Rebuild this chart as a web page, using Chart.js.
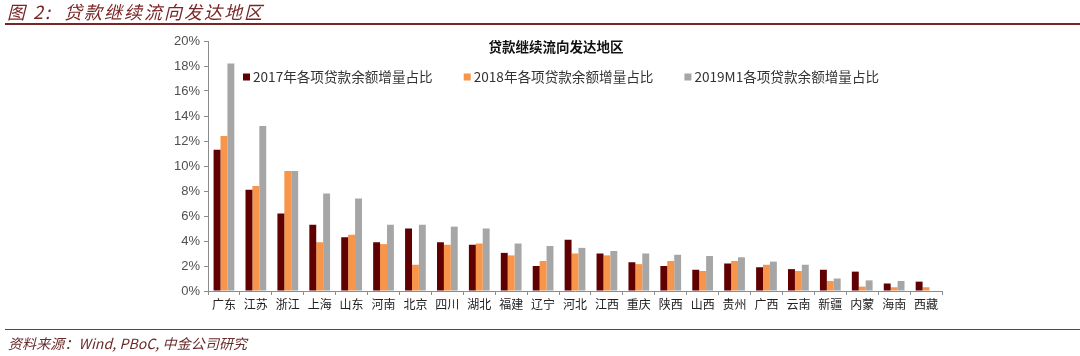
<!DOCTYPE html>
<html>
<head>
<meta charset="utf-8">
<script src="https://cdn.jsdelivr.net/npm/chart.js@4/dist/chart.umd.min.js"></script>
<style>
  html, body { margin: 0; padding: 0; background: #fff; }
  #wrap { position: relative; width: 1080px; height: 356px; overflow: hidden; }
  #c { position: absolute; left: 0; top: 0; }
  .hdr { position: absolute; left: 7px; top: 0px; font-family: "Noto Sans CJK SC", "Liberation Sans", sans-serif; font-style: italic; font-size: 18px; letter-spacing: 2px; color: #7b2626; line-height: 22px; }
  .line1 { position: absolute; left: 5px; right: 0; top: 23px; height: 2px; background: #7b2626; }
  .line2 { position: absolute; left: 5px; right: 0; top: 329px; height: 1px; background: #7b3a3a; }
  .src { position: absolute; left: 8px; top: 333px; font-family: "Noto Sans CJK SC", "Liberation Sans", sans-serif; font-style: italic; font-size: 14px; letter-spacing: 0.1px; color: #6b2a2a; line-height: 20px; }
</style>
</head>
<body>
<div id="wrap">
  <canvas id="c" width="1080" height="356"></canvas>
  <div class="hdr">图 2:&nbsp; 贷款继续流向发达地区</div>
  <div class="line1"></div>
  <div class="line2"></div>
  <div class="src">资料来源：Wind, PBoC, 中金公司研究</div>
</div>
<script>
const categories = ["广东","江苏","浙江","上海","山东","河南","北京","四川","湖北","福建","辽宁","河北","江西","重庆","陕西","山西","贵州","广西","云南","新疆","内蒙","海南","西藏"];
const seriesNames = ["2017年各项贷款余额增量占比","2018年各项贷款余额增量占比","2019M1各项贷款余额增量占比"];
const values2017 = [11.3, 8.1, 6.2, 5.3, 4.3, 3.9, 5.0, 3.9, 3.7, 3.05, 2.0, 4.1, 3.0, 2.3, 2.0, 1.7, 2.2, 1.9, 1.75, 1.7, 1.55, 0.6, 0.75];
const values2018 = [12.4, 8.4, 9.6, 3.9, 4.5, 3.75, 2.1, 3.7, 3.8, 2.85, 2.4, 3.0, 2.85, 2.15, 2.4, 1.6, 2.4, 2.1, 1.6, 0.8, 0.35, 0.3, 0.3];
const values2019 = [18.2, 13.2, 9.6, 7.8, 7.4, 5.3, 5.3, 5.15, 5.0, 3.8, 3.6, 3.45, 3.2, 3.0, 2.9, 2.8, 2.7, 2.35, 2.1, 1.0, 0.85, 0.8, 0];
const yTicks = [0, 2, 4, 6, 8, 10, 12, 14, 16, 18, 20];
const chartTitle = "贷款继续流向发达地区";

const colors = ["#600000", "#f7964a", "#a6a6a6"];
const CJK = '"Noto Sans CJK SC", sans-serif';

const overlay = {
  id: 'overlay',
  afterDraw(chart) {
    const ctx = chart.ctx;
    ctx.save();
    // chart title
    ctx.fillStyle = '#111';
    ctx.font = 'bold 13.5px ' + CJK;
    ctx.textAlign = 'center';
    ctx.textBaseline = 'middle';
    ctx.fillText(chartTitle, 556, 47);
    // legend
    ctx.font = '13.6px ' + CJK;
    ctx.textAlign = 'left';
    let x = 243;
    const y = 77;
    chart.data.datasets.forEach((ds, i) => {
      ctx.fillStyle = ds.backgroundColor;
      ctx.fillRect(x, y - 3.5, 7, 7);
      ctx.fillStyle = '#333';
      const label = ds.label;
      ctx.fillText(label, x + 10, y);
      x += 10 + ctx.measureText(label).width + 31;
    });
    ctx.restore();
  }
};

new Chart(document.getElementById('c'), {
  type: 'bar',
  data: {
    labels: categories,
    datasets: [
      { label: seriesNames[0], data: values2017, backgroundColor: colors[0] },
      { label: seriesNames[1], data: values2018, backgroundColor: colors[1] },
      { label: seriesNames[2], data: values2019, backgroundColor: colors[2] }
    ]
  },
  options: {
    responsive: false,
    animation: false,
    devicePixelRatio: 1,
    layout: { padding: { left: 0, right: 138, top: 41, bottom: 0 } },
    datasets: { bar: { categoryPercentage: 0.65, barPercentage: 1.0 } },
    plugins: { legend: { display: false }, title: { display: false }, tooltip: { enabled: false } },
    scales: {
      x: {
        afterFit: s => { s.height = 65; },
        grid: { display: true, drawOnChartArea: false, drawTicks: true, tickLength: 4, offset: true, color: '#8c8c8c', lineWidth: 1 },
        border: { display: true, color: '#8c8c8c', width: 1 },
        ticks: { font: { family: CJK, size: 12 }, color: '#222', padding: 2, maxRotation: 0, autoSkip: false }
      },
      y: {
        min: 0, max: 20,
        afterFit: s => { s.width = 208; },
        afterBuildTicks: s => { s.ticks = yTicks.map(v => ({ value: v })); },
        grid: { display: true, drawOnChartArea: false, drawTicks: true, tickLength: 4, color: '#8c8c8c', lineWidth: 1 },
        border: { display: true, color: '#8c8c8c', width: 1 },
        ticks: { font: { family: '"Liberation Sans", Arial, sans-serif', size: 13 }, color: '#505050', padding: 4, callback: v => v + '%' }
      }
    }
  },
  plugins: [overlay]
});
</script>
</body>
</html>
